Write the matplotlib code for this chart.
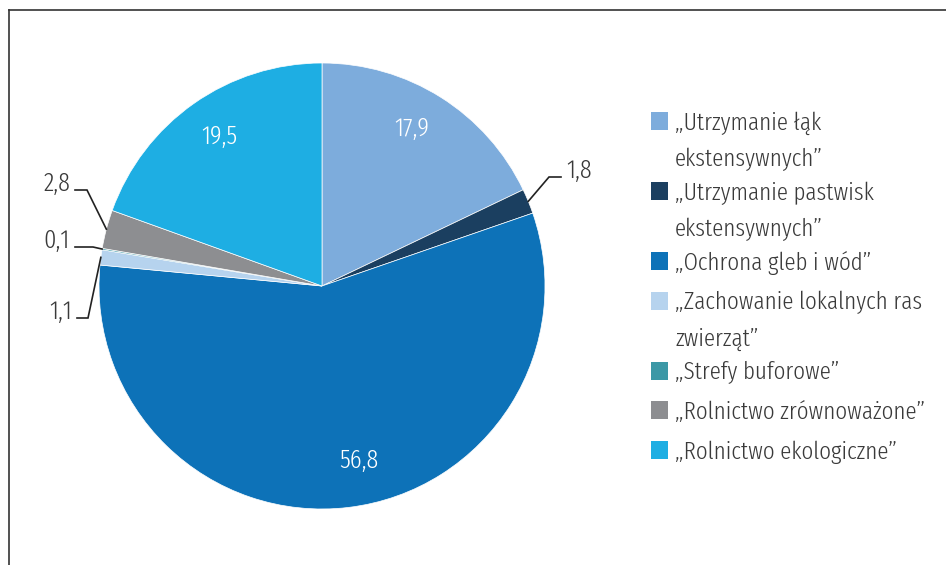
import matplotlib
matplotlib.use("Agg")
import matplotlib.pyplot as plt
from matplotlib.patches import Rectangle
import numpy as np

plt.rcParams['font.family'] = ['Fira Sans Extra Condensed', 'DejaVu Sans']
plt.rcParams['font.weight'] = 300

# data
categories = [
    "„Utrzymanie łąk\nekstensywnych”",
    "„Utrzymanie pastwisk\nekstensywnych”",
    "„Ochrona gleb i wód”",
    "„Zachowanie lokalnych ras\nzwierząt”",
    "„Strefy buforowe”",
    "„Rolnictwo zrównoważone”",
    "„Rolnictwo ekologiczne”",
]
values = [17.9, 1.8, 56.8, 1.1, 0.1, 2.8, 19.5]
value_labels = ["17,9", "1,8", "56,8", "1,1", "0,1", "2,8", "19,5"]
colors = ["#7dacdc", "#1b3f60", "#0d72b8", "#b6d3ee", "#3b98a6", "#8d8e91", "#1eaee3"]

W, H = 946, 565
fig = plt.figure(figsize=(W / 100, H / 100), dpi=100)
ax = fig.add_axes([0, 0, 1, 1])

cx, cy, r = 322, H - 286, 223
wedges, _ = ax.pie(values, colors=colors, startangle=90, counterclock=False,
                   center=(cx, cy), radius=r,
                   wedgeprops=dict(edgecolor="white", linewidth=0.5))
ax.set_xlim(0, W)
ax.set_ylim(0, H)
ax.set_aspect("equal")
ax.set_axis_off()

txt = "#3a3a3a"
fs = 18
fs_num = 19

# leader lines for the small slices: (elbow x, elbow y, end x, text x, ha), screen px
leaders = {
    1: (549, 177, 561, 566, "left"),
    3: (88, 318, 77, 72, "right"),
    4: (93, 247, 75, 70, "right"),
    5: (87, 190, 75, 70, "right"),
}
# small nudges of the inside labels (px)
nudge = {0: (-7, 5), 2: (15, 5), 6: (1, 2)}
for i, w in enumerate(wedges):
    mid = np.deg2rad((w.theta1 + w.theta2) / 2)
    if i in leaders:
        ex, ey, endx, tx, ha = leaders[i]
        ax_, ay_ = cx + r * np.cos(mid), cy + r * np.sin(mid)
        ax.plot([ax_, ex, endx], [ay_, H - ey, H - ey], color="#222222", lw=1.2,
                solid_joinstyle="miter")
        ax.text(tx, H - ey - 1, value_labels[i], ha=ha, va="baseline",
                fontsize=fs_num, color=txt)
    else:
        d = 0.81 * r
        nx, ny = nudge.get(i, (0, 0))
        ax.text(cx + d * np.cos(mid) + nx, cy + d * np.sin(mid) + ny, value_labels[i],
                ha="center", va="center", fontsize=fs_num, color="white")

# legend
y = 130
for cat, col in zip(categories, colors):
    ax.add_patch(Rectangle((651, H - y), 17, 18, facecolor=col, edgecolor="none"))
    for k, line in enumerate(cat.split("\n")):
        ax.text(675, H - y - 36 * k, line, ha="left", va="baseline", fontsize=fs,
                color=txt)
    y += 39.5 + 30.5 * cat.count("\n")

# frame (top and left edges)
ax.plot([9, W], [H - 10, H - 10], color="#333333", lw=1.2)
ax.plot([9, 9], [H - 10, 0], color="#333333", lw=1.2)

fig.savefig("out.png", dpi=100)
